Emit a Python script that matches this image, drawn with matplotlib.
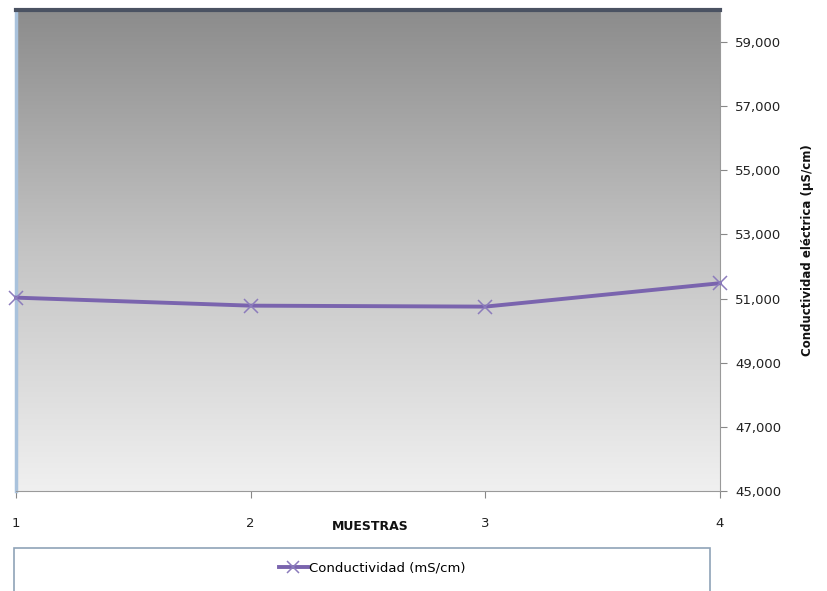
import matplotlib
matplotlib.use("Agg")
import matplotlib.pyplot as plt
import numpy as np
from matplotlib.patches import Rectangle
from matplotlib.ticker import FuncFormatter
from matplotlib.colors import LinearSegmentedColormap

muestras = [1, 2, 3, 4]
conductividad = [51030, 50780, 50750, 51480]
y_ticks = [45000, 47000, 49000, 51000, 53000, 55000, 57000, 59000]
series_label = "Conductividad (mS/cm)"
x_label = "MUESTRAS"
y_label = "Conductividad eléctrica (µS/cm)"

plt.rcParams['font.family'] = ['DejaVu Sans']

W, H = 827, 591
fig = plt.figure(figsize=(W / 100, H / 100), dpi=100)
fig.patch.set_facecolor('white')

l, r, b, t = 16, 720, 491, 10
ax = fig.add_axes([l / W, 1 - b / H, (r - l) / W, (b - t) / H])

ymin, ymax = 45000, 60000
grad = np.linspace(0, 1, 256).reshape(-1, 1)
cmap = LinearSegmentedColormap.from_list('bg', ['#8c8c8c', '#c4c4c4', '#f0f0f0'])
ax.imshow(grad, aspect='auto', cmap=cmap, extent=[1, 4, ymin, ymax],
          origin='upper', zorder=0, interpolation='bilinear')

ax.plot(muestras, conductividad, color='#7a64ae', lw=2.8, marker='x',
        markersize=10, markeredgecolor='#8c7cbc', markeredgewidth=1.1,
        label=series_label, zorder=3, clip_on=False)

ax.set_xlim(1, 4)
ax.set_ylim(ymin, ymax)
ax.set_xticks(muestras)
ax.set_yticks(y_ticks)
ax.yaxis.set_major_formatter(FuncFormatter(lambda v, p: f"{int(v):,}"))
ax.yaxis.tick_right()
ax.tick_params(axis='y', direction='out', length=5, width=0.8, color='#888888',
               labelsize=9.5, labelcolor='#222222', pad=6)
ax.tick_params(axis='x', direction='out', length=5, width=0.8, color='#888888',
               labelsize=9.5, labelcolor='#222222', pad=14)

ax.spines['left'].set_color('#a9c2dc')
ax.spines['left'].set_linewidth(2.5)
ax.spines['right'].set_color('#9a9a9a')
ax.spines['bottom'].set_color('#9a9a9a')
ax.spines['top'].set_color('#4a5262')
ax.spines['top'].set_linewidth(3.0)

fig.text(370 / W, 1 - 527 / H, x_label, ha='center', va='center',
         fontsize=9, fontweight='bold', color='#111111')
fig.text(808 / W, 1 - 250 / H, y_label, ha='center', va='center',
         rotation=90, fontsize=8.5, fontweight='bold', color='#111111')

rect = Rectangle((14 / W, -0.05), (710 - 14) / W, (591 - 548) / H + 0.05,
                 transform=fig.transFigure, facecolor='white',
                 edgecolor='#8fa3b8', linewidth=1.2)
fig.patches.append(rect)
handles, labels = ax.get_legend_handles_labels()
fig.legend(handles, labels, loc='center', bbox_to_anchor=(372 / W, 1 - 568 / H),
           frameon=False, fontsize=9.5, handlelength=2.2, handletextpad=0.1,
           markerscale=0.8)

fig.savefig('out.png', dpi=100)
